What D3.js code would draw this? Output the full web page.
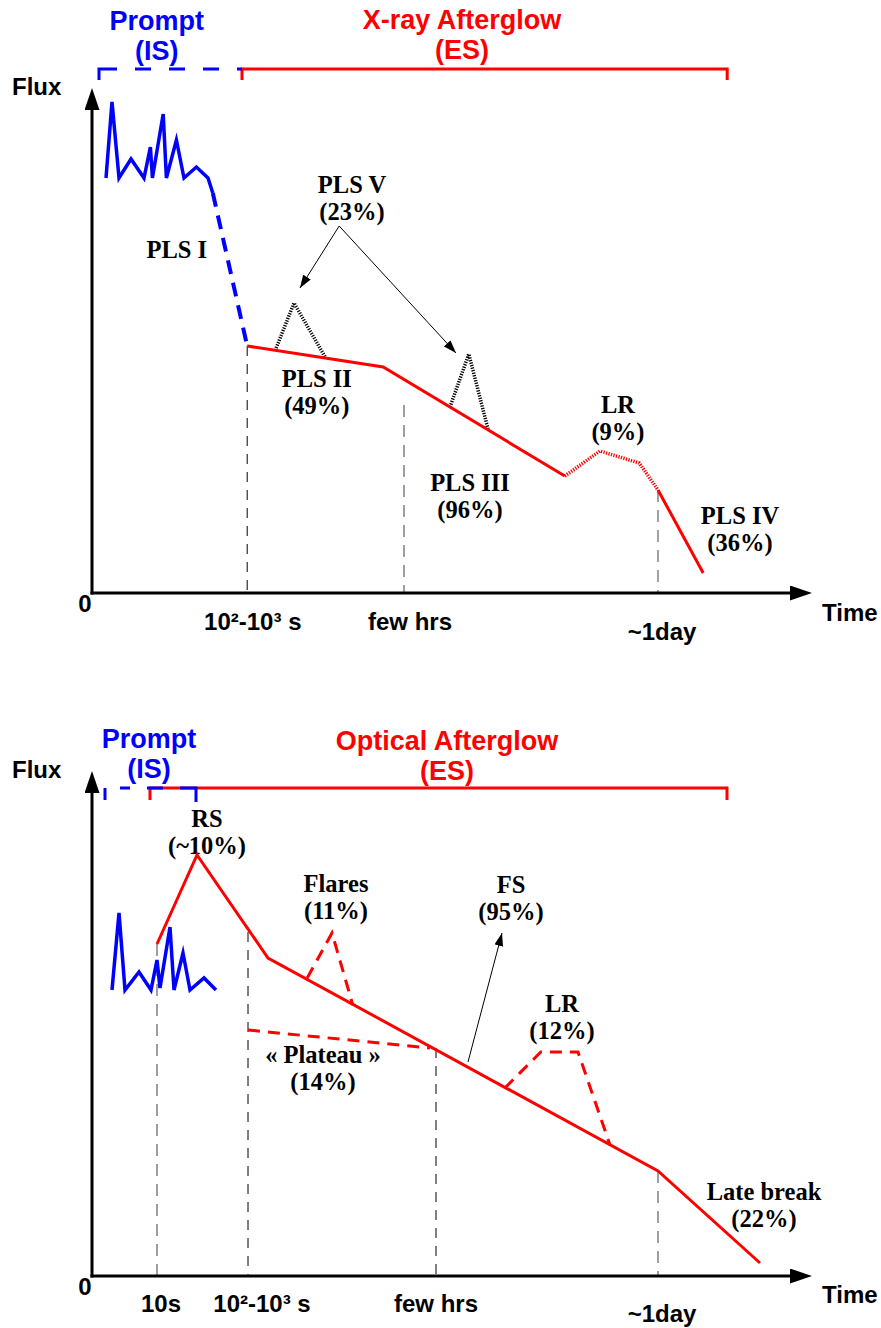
<!DOCTYPE html>
<html>
<head>
<meta charset="utf-8">
<script src="https://cdn.jsdelivr.net/npm/d3@7"></script>
<style>
  body { margin: 0; background: #fff; }
  svg { display: block; }
  .hdr { font-family: "Liberation Sans", Arial, sans-serif; font-weight: bold; font-size: 27px; }
  .ax { font-family: "Liberation Sans", Arial, sans-serif; font-weight: bold; font-size: 24px; fill: #000; }
  .lbl { font-family: "Liberation Serif", "Times New Roman", serif; font-weight: bold; font-size: 24.5px; fill: #000; }
</style>
</head>
<body>
<div id="chart"></div>
<script>
// Schematic units: time 0..90 along the axis, flux 0..101 up the axis

// ---- X-ray panel (top)
const xrayPrompt = [[1.75, 83], [2.5, 98.2], [3.375, 83], [4.875, 86.8], [6.5, 83], [7.3, 89.2], [7.55, 83],
    [8.9, 95.8], [9.3, 83], [10.55, 90.6], [11.5, 83], [13.05, 85.2], [14.5, 83], [15.1, 80]];
const xrayPls1 = [[15.1, 80], [19.4, 49.4]];
const xrayMain = [[19.4, 49.4], [36.4, 45.2], [59.1, 23.4]];
const xrayLR = [[59.1, 23.4], [63.5, 28.4], [68.4, 26], [70.75, 20.6]];
const xrayPls4 = [[70.75, 20.6], [76.4, 4]];
const xrayFlares = [
    [[22.9, 48.5], [25.25, 58], [29.25, 46.9]],
    [[44.75, 37.2], [47.1, 47.8], [49.5, 32.8]]
];
const xrayArrowFrom = [30.9, 73.4];
const xrayArrowTo = [[26, 61], [45.5, 48]];
const xrayGuides = [[19.4, 49.4], [39, 37.6], [70.75, 20.6]];
const xrayGuideTone = ['dark', 'grey', 'grey'];
const xrayPhases = { level: 104.8, tick: 102.6, prompt: [0.875, 18.75], after: [18.75, 79.4] };
const xrayHeaders = [
    { lines: ['Prompt', '(IS)'], t: 8.1, f: 112.6, tone: 'prompt' },
    { lines: ['X-ray Afterglow', '(ES)'], t: 46.25, f: 112.8, tone: 'after' }
];
const xrayTicks = [
    { label: '10²-10³ s', t: 20.1, f: -7.4 },
    { label: 'few hrs', t: 39.75, f: -7.4 },
    { label: '~1day', t: 71.25, f: -9.4 }
];
const xrayNotes = [
    { lines: ['PLS V', '(23%)'], t: 32.5, f: 80 },
    { lines: ['PLS I'], t: 10.6, f: 67 },
    { lines: ['PLS II', '(49%)'], t: 28.1, f: 41.2 },
    { lines: ['PLS III', '(96%)'], t: 47.25, f: 20.4 },
    { lines: ['LR', '(9%)'], t: 65.75, f: 36 },
    { lines: ['PLS IV', '(36%)'], t: 81, f: 13.8 }
];

// ---- Optical panel (bottom)
const optPrompt = [[2.5, 57.2], [3.375, 72.6], [4.125, 57.2], [5.875, 60.8], [7.375, 57.2], [8.125, 63.2], [8.5, 57.6],
    [9.75, 69.8], [10.25, 57.2], [11.375, 64.6], [12.25, 57.2], [14, 59.6], [15.5, 57.2]];
const optMain = [[8.125, 66.4], [13.125, 84.2], [22, 63.6], [70.75, 21], [83.5, 2.6]];
const optFlare = [[26.9, 59.6], [30, 68.6], [32.6, 54.2]];
const optPlateau = [[19.5, 49.2], [42.25, 45.6]];
const optLR = [[51.6, 37.6], [56.1, 44.8], [60.75, 44.8], [64.75, 26.2]];
const optFsArrow = [[47, 42.8], [51.25, 68.6]];
const optGuides = [[8.125, 66.4], [19.5, 68.8], [43, 45.6], [70.75, 21]];
const optGuideTone = ['grey', 'dark', 'dark', 'grey'];
const optPhases = { level: 97.6, tick: 95.2, prompt: [1.625, 13], after: [7.25, 79.375] };
const optHeaders = [
    { lines: ['Prompt', '(IS)'], t: 7.125, f: 105.6, tone: 'prompt' },
    { lines: ['Optical Afterglow', '(ES)'], t: 44.375, f: 105.2, tone: 'after' }
];
const optTicks = [
    { label: '10s', t: 8.625, f: -7.2 },
    { label: '10²-10³ s', t: 21.25, f: -7.2 },
    { label: 'few hrs', t: 43, f: -7.2 },
    { label: '~1day', t: 71.25, f: -9.2 }
];
const optNotes = [
    { lines: ['RS', '(~10%)'], t: 14.375, f: 89.8 },
    { lines: ['Flares', '(11%)'], t: 30.5, f: 76.8 },
    { lines: ['FS', '(95%)'], t: 52.375, f: 76.6 },
    { lines: ['LR', '(12%)'], t: 58.75, f: 52.8 },
    { lines: ['« Plateau »', '(14%)'], t: 28.875, f: 42.6 },
    { lines: ['Late break', '(22%)'], t: 84, f: 15.2 }
];

const BLUE = '#0000ff';
const RED = '#ff0000';

const svg = d3.select('#chart').append('svg')
    .attr('width', 881)
    .attr('height', 1328);

const defs = svg.append('defs');
defs.append('marker')
    .attr('id', 'axisHead')
    .attr('viewBox', '0 0 22 15')
    .attr('refX', 2).attr('refY', 7.5)
    .attr('markerWidth', 22).attr('markerHeight', 15)
    .attr('markerUnits', 'userSpaceOnUse')
    .attr('orient', 'auto')
    .append('path').attr('d', 'M0,0 L22,7.5 L0,15 Z').attr('fill', '#000');
defs.append('marker')
    .attr('id', 'noteHead')
    .attr('viewBox', '0 0 13 9')
    .attr('refX', 13).attr('refY', 4.5)
    .attr('markerWidth', 13).attr('markerHeight', 9)
    .attr('markerUnits', 'userSpaceOnUse')
    .attr('orient', 'auto')
    .append('path').attr('d', 'M0,0 L13,4.5 L0,9 Z').attr('fill', '#000');

const x = d3.scaleLinear().domain([0, 90]).range([92, 812]);

function drawPanel(cfg) {
    const y = d3.scaleLinear().domain([0, 101]).range([cfg.originY, cfg.originY - 505]);
    const g = svg.append('g');
    const line = d3.line().x(d => x(d[0])).y(d => y(d[1]));

    // dashed guides down to the time axis
    cfg.guides.forEach((d, i) => {
        const grey = cfg.guideTone[i] === 'grey';
        g.append('line')
            .attr('x1', x(d[0])).attr('x2', x(d[0]))
            .attr('y1', y(d[1])).attr('y2', y(0))
            .attr('stroke', grey ? '#777' : '#000')
            .attr('stroke-width', grey ? 1.4 : 1)
            .attr('stroke-dasharray', grey ? '12,8' : '10,8');
    });

    // axes
    g.append('line')
        .attr('x1', x(0)).attr('y1', y(0) + 1.5)
        .attr('x2', x(0)).attr('y2', y(101) + 20)
        .attr('stroke', '#000').attr('stroke-width', 3)
        .attr('marker-end', 'url(#axisHead)');
    g.append('line')
        .attr('x1', x(0) - 1.5).attr('y1', y(0))
        .attr('x2', x(90) - 20).attr('y2', y(0))
        .attr('stroke', '#000').attr('stroke-width', 3)
        .attr('marker-end', 'url(#axisHead)');

    g.append('text').attr('class', 'ax').attr('x', x(-10)).attr('y', y(99.6)).text('Flux');
    g.append('text').attr('class', 'ax').attr('x', x(-0.875)).attr('y', y(-3.8))
        .attr('text-anchor', 'middle').text('0');
    g.append('text').attr('class', 'ax').attr('x', x(91.25)).attr('y', y(cfg.timeF)).text('Time');

    g.selectAll('.tick-label')
        .data(cfg.ticks)
        .enter().append('text')
        .attr('class', 'ax')
        .attr('x', d => x(d.t))
        .attr('y', d => y(d.f))
        .attr('text-anchor', 'middle')
        .text(d => d.label);

    // phase brackets
    const ph = cfg.phases;
    g.append('path')
        .attr('d', line([[ph.after[0], ph.tick], [ph.after[0], ph.level], [ph.after[1], ph.level], [ph.after[1], ph.tick]]))
        .attr('fill', 'none').attr('stroke', RED).attr('stroke-width', 3);
    g.append('path')
        .attr('d', line([[ph.prompt[0], ph.tick], [ph.prompt[0], ph.level], [ph.prompt[1], ph.level]].concat(cfg.promptCloseTick ? [[ph.prompt[1], ph.tick - 0.4]] : [])))
        .attr('fill', 'none').attr('stroke', BLUE).attr('stroke-width', 3)
        .attr('stroke-dasharray', cfg.promptDash);

    g.selectAll('.hdr-text')
        .data(cfg.headers)
        .enter().append('text')
        .attr('class', 'hdr')
        .attr('text-anchor', 'middle')
        .attr('fill', d => d.tone === 'prompt' ? BLUE : RED)
        .each(function (d) {
            const t = d3.select(this);
            d.lines.forEach((s, i) => {
                t.append('tspan').attr('x', x(d.t)).attr('y', y(d.f) + i * 30).text(s);
            });
        });

    // notes
    g.selectAll('.note')
        .data(cfg.notes)
        .enter().append('text')
        .attr('class', 'lbl')
        .attr('text-anchor', 'middle')
        .each(function (d) {
            const t = d3.select(this);
            d.lines.forEach((s, i) => {
                t.append('tspan').attr('x', x(d.t)).attr('y', y(d.f) + i * 27).text(s);
            });
        });

    return { g, y, line };
}

// ---- top panel
const xrayPanel = drawPanel({
    originY: 593, timeF: -5.6,
    guides: xrayGuides, guideTone: xrayGuideTone,
    phases: xrayPhases, headers: xrayHeaders, ticks: xrayTicks, notes: xrayNotes,
    promptDash: '29,18,16,18,16,18,16,18,16,18', promptCloseTick: false
});

xrayPanel.g.append('path').attr('d', xrayPanel.line(xrayPrompt))
    .attr('fill', 'none').attr('stroke', BLUE).attr('stroke-width', 3.5)
    .attr('stroke-linejoin', 'miter').attr('stroke-miterlimit', 6);
xrayPanel.g.append('path').attr('d', xrayPanel.line(xrayPls1))
    .attr('fill', 'none').attr('stroke', BLUE).attr('stroke-width', 4)
    .attr('stroke-dasharray', '14,9');
xrayPanel.g.selectAll('.flare')
    .data(xrayFlares)
    .enter().append('path')
    .attr('d', d => xrayPanel.line(d))
    .attr('fill', 'none').attr('stroke', '#000').attr('stroke-width', 3.5)
    .attr('stroke-dasharray', '1.3,1.3');
xrayPanel.g.append('path').attr('d', xrayPanel.line(xrayMain))
    .attr('fill', 'none').attr('stroke', RED).attr('stroke-width', 3);
xrayPanel.g.append('path').attr('d', xrayPanel.line(xrayLR))
    .attr('fill', 'none').attr('stroke', RED).attr('stroke-width', 3.5)
    .attr('stroke-dasharray', '1.3,1.3');
xrayPanel.g.append('path').attr('d', xrayPanel.line(xrayPls4))
    .attr('fill', 'none').attr('stroke', RED).attr('stroke-width', 3);
xrayPanel.g.selectAll('.note-arrow')
    .data(xrayArrowTo)
    .enter().append('path')
    .attr('d', d => xrayPanel.line([xrayArrowFrom, d]))
    .attr('fill', 'none').attr('stroke', '#000').attr('stroke-width', 1)
    .attr('marker-end', 'url(#noteHead)');

// ---- bottom panel
const optPanel = drawPanel({
    originY: 1276, timeF: -5.4,
    guides: optGuides, guideTone: optGuideTone,
    phases: optPhases, headers: optHeaders, ticks: optTicks, notes: optNotes,
    promptDash: '12,15,10,17,16,17,40', promptCloseTick: true
});

optPanel.g.append('path').attr('d', optPanel.line(optPrompt))
    .attr('fill', 'none').attr('stroke', BLUE).attr('stroke-width', 3.5)
    .attr('stroke-linejoin', 'miter').attr('stroke-miterlimit', 6);
optPanel.g.append('path').attr('d', optPanel.line(optMain))
    .attr('fill', 'none').attr('stroke', RED).attr('stroke-width', 3);
[optFlare, optPlateau, optLR].forEach(seg => {
    optPanel.g.append('path').attr('d', optPanel.line(seg))
        .attr('fill', 'none').attr('stroke', RED).attr('stroke-width', 3)
        .attr('stroke-dasharray', '12,8');
});
optPanel.g.append('path').attr('d', optPanel.line(optFsArrow))
    .attr('fill', 'none').attr('stroke', '#000').attr('stroke-width', 1)
    .attr('marker-end', 'url(#noteHead)');
</script>
</body>
</html>
